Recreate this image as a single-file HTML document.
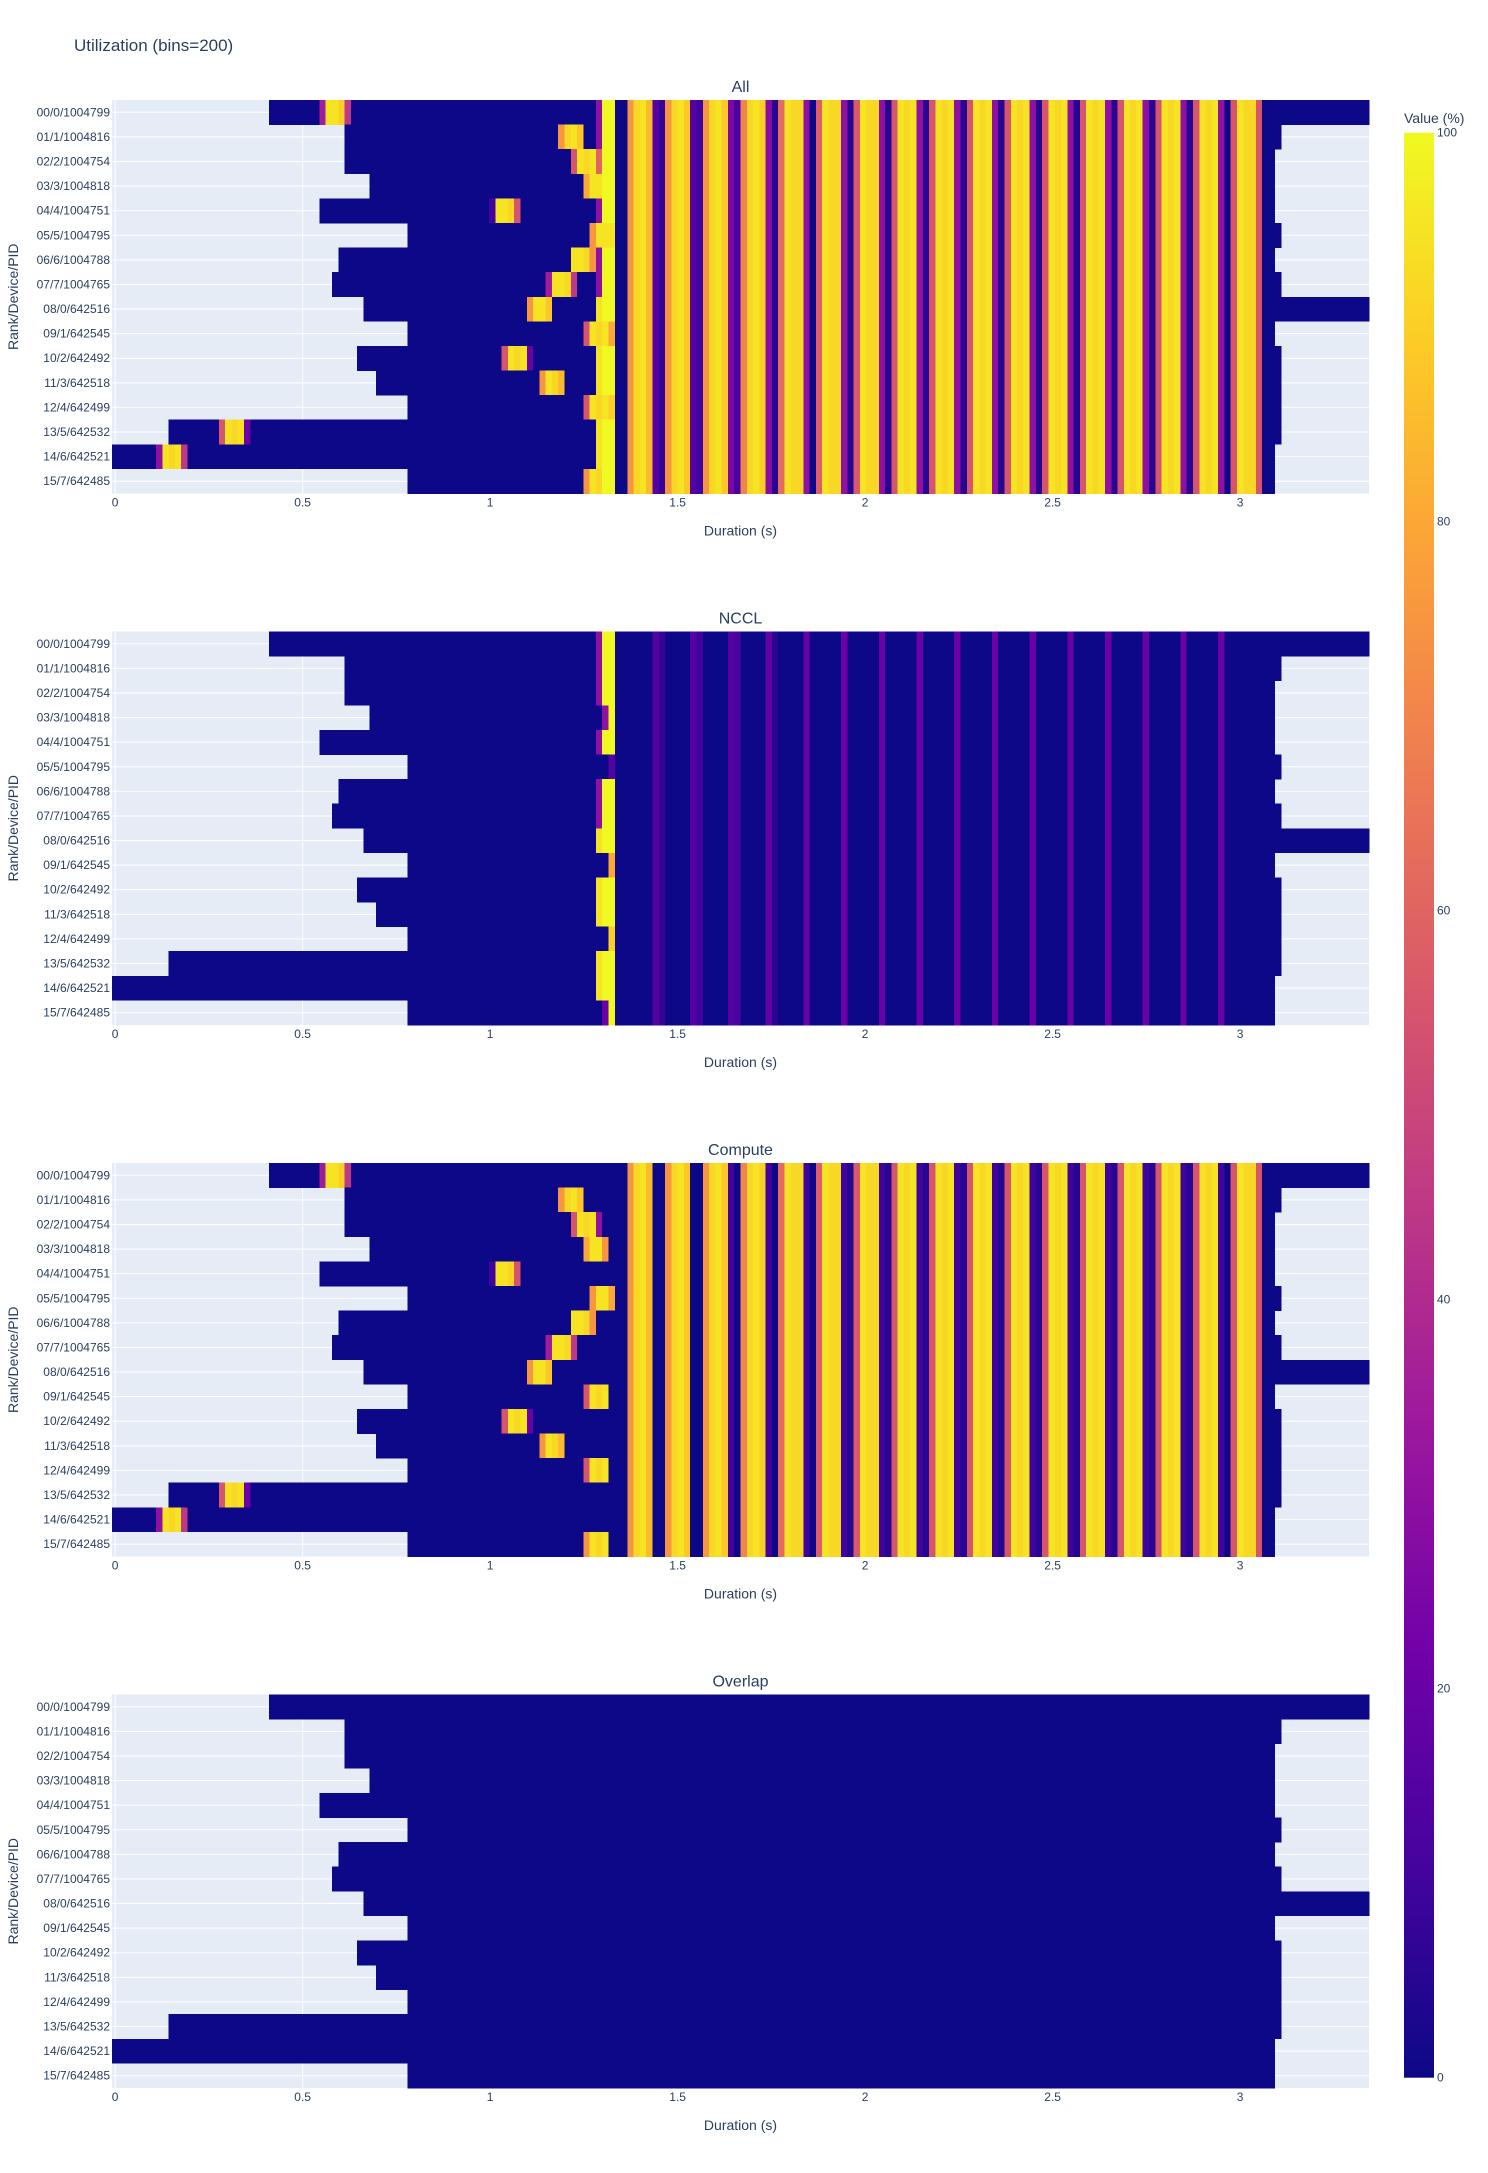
<!DOCTYPE html>
<html><head><meta charset="utf-8"><style>
body{margin:0;background:#fff;}
svg text{font-family:"Liberation Sans",Arial,sans-serif;fill:#2a3f5f;}
</style></head><body>
<svg id="chart" width="1488" height="2168" xmlns="http://www.w3.org/2000/svg">
<text x="74" y="51" font-size="17">Utilization (bins=200)</text>
</svg>
<script>
// ---- data ----
const rowLabels = ["00/0/1004799","01/1/1004816","02/2/1004754","03/3/1004818","04/4/1004751","05/5/1004795","06/6/1004788","07/7/1004765","08/0/642516","09/1/642545","10/2/642492","11/3/642518","12/4/642499","13/5/642532","14/6/642521","15/7/642485"];
const panelTitles = ["All","NCCL","Compute","Overlap"];
const xTicks = [0,0.5,1,1.5,2,2.5,3];
const xTickLabels = ["0","0.5","1","1.5","2","2.5","3"];
const cbTicks = [0,20,40,60,80,100];
const binCount = 200;
const binWidth = 0.01676;
// active bin range per row
const rowStart = [25,37,37,41,33,47,36,35,40,47,39,42,47,9,0,47];
const rowEnd = [199,185,184,184,184,185,184,185,199,184,185,185,185,185,184,184];
// compute pre-phase blip per row: start bin and 5 values
const blipStart = [33,71,73,75,60,76,73,69,66,75,62,68,75,17,7,75];
const blipVals = [
[35,95,95,90,45],[75,92,95,88,0],[55,95,92,95,30],[80,95,95,75,0],
[10,95,95,92,55],[75,95,95,80,0],[95,95,92,75,0],[35,95,95,92,45],
[75,95,95,88,0],[55,95,92,95,0],[55,95,92,95,20],[75,95,92,85,0],
[55,95,92,95,0],[55,95,92,95,20],[30,95,92,95,45],[75,95,92,95,0]];
// NCCL values at bins 77,78,79 per row
const ncclEarly = [[30,100,100],[30,100,100],[30,100,100],[0,30,100],[30,100,100],[0,0,15],[30,100,100],[30,100,100],[95,100,100],[0,0,80],[95,100,100],[95,100,100],[0,0,90],[95,100,100],[95,100,100],[0,20,100]];
// steady-state compute columns, bins 80..199
const computeSteady = [0,0,75,92,95,85, 0,0,75,92,95,88, 0,0,75,92,95,88, 10,0,70,92,95,90, 10,0,62,95,92,92, 10,0,58,95,92,92,
 10,5,56,95,92,92, 10,5,55,95,92,95, 10,5,55,95,92,95, 10,5,55,95,92,95, 10,5,55,95,92,95, 10,5,55,95,92,95,
 10,5,55,95,92,95, 10,5,55,95,92,95, 10,5,55,95,92,95, 10,5,55,95,92,95, 10,0,55,95,92,92, 55,
 0,0,0,0,0,0,0,0,0,0,0,0,0,0,0,0,0];
// steady-state NCCL columns, bins 80..199
const ncclSteady = [0,0,0,0,0,0, 15,8,0,0,0,0, 15,10,0,0,0,0, 15,12,0,0,0,0, 18,5,0,0,0,0, 20,0,0,0,0,0,
 20,0,0,0,0,0, 20,0,0,0,0,0, 20,0,0,0,0,0, 20,0,0,0,0,0, 20,0,0,0,0,0, 20,0,0,0,0,0,
 20,0,0,0,0,0, 20,0,0,0,0,0, 20,0,0,0,0,0, 20,0,0,0,0,0, 20,0,0,0,0,0,
 0,0,0,0,0,0,0,0,0,0,0,0,0,0,0,0,0,0];

// ---- build matrices ----
function buildMatrix(kind){
  const m=[];
  for(let r=0;r<16;r++){
    const row=[];
    for(let b=0;b<binCount;b++){
      if(b<rowStart[r]||b>rowEnd[r]){row.push(null);continue;}
      let c=0,n=0;
      const k=b-blipStart[r];
      if(k>=0&&k<5) c=blipVals[r][k];
      if(b>=77&&b<=79) n=ncclEarly[r][b-77];
      if(b>=80){c=computeSteady[b-80]||0;n=ncclSteady[b-80]||0;}
      let v;
      if(kind==="All") v=Math.min(100,c+n);
      else if(kind==="NCCL") v=n;
      else if(kind==="Compute") v=c;
      else v=0;
      row.push(v);
    }
    m.push(row);
  }
  return m;
}
const stops=[[0,"#0d0887"],[0.111,"#46039f"],[0.222,"#7201a8"],[0.333,"#9c179e"],[0.444,"#bd3786"],[0.556,"#d8576b"],[0.667,"#ed7953"],[0.778,"#fb9f3a"],[0.889,"#fdca26"],[1,"#f0f921"]];
function hex(h){return [parseInt(h.slice(1,3),16),parseInt(h.slice(3,5),16),parseInt(h.slice(5,7),16)];}
function color(v){
  const t=Math.max(0,Math.min(1,v/100));
  for(let i=1;i<stops.length;i++){
    if(t<=stops[i][0]){
      const a=hex(stops[i-1][1]),b=hex(stops[i][1]);
      const f=(t-stops[i-1][0])/(stops[i][0]-stops[i-1][0]);
      return "rgb("+a.map((x,j)=>Math.round(x+(b[j]-x)*f)).join(",")+")";
    }
  }
  return stops[stops.length-1][1];
}
const NS="http://www.w3.org/2000/svg";
const svg=document.getElementById("chart");
function el(tag,attrs,parent){const e=document.createElementNS(NS,tag);for(const k in attrs)e.setAttribute(k,attrs[k]);(parent||svg).appendChild(e);return e;}
const plotL=112, plotR=1369, plotH=393.5;
const panelTops=[100,631.5,1163,1694.5];
const cellW=(plotR-plotL)/binCount;
function xScale(s){return plotL+cellW/2+s/binWidth*cellW;}

panelTitles.forEach((title,p)=>{
  const top=panelTops[p], rowH=plotH/16;
  const yScale=r=>top+r*rowH;
  const g=el("g",{});
  
  
  const bg=el("rect",{x:plotL,y:top,width:plotR-plotL,height:plotH,fill:"#e5ecf6"},g);
  
  
  xTicks.forEach((t)=>{
    const gl=el("line",{x1:xScale(t),x2:xScale(t),y1:top,y2:top+plotH,stroke:"#fff","stroke-width":1},g);
    
    
  });
  rowLabels.forEach((lab,r)=>{
    const gl=el("line",{x1:plotL,x2:plotR,y1:yScale(r)+rowH/2,y2:yScale(r)+rowH/2,stroke:"#fff","stroke-width":1},g);
    
    
  });
  const m=buildMatrix(title);
  const hg=el("g",{"shape-rendering":"crispEdges"},g);
  
  
  for(let r=0;r<16;r++){
    for(let b=0;b<binCount;b++){
      const v=m[r][b]; if(v===null)continue;
      const cell=el("rect",{x:(plotL+b*cellW).toFixed(2),y:yScale(r).toFixed(2),width:(cellW+0.3).toFixed(2),height:(rowH+0.3).toFixed(2),fill:color(v)},hg);
      
      
    }
  }
  const tt=el("text",{x:(plotL+plotR)/2,y:top-8,"font-size":16,"text-anchor":"middle"},g);
  tt.textContent=title;
  
  
  rowLabels.forEach((lab,r)=>{
    const t=el("text",{x:plotL-2,y:yScale(r)+rowH/2+4,"font-size":12,"text-anchor":"end"},g);
    t.textContent=lab;
    
    
  });
  xTicks.forEach((tv,i)=>{
    const t=el("text",{x:xScale(tv),y:top+plotH+13,"font-size":12,"text-anchor":"middle"},g);
    t.textContent=xTickLabels[i];
    
    
  });
  const xt=el("text",{x:(plotL+plotR)/2,y:top+plotH+42,"font-size":14,"text-anchor":"middle"},g);
  xt.textContent="Duration (s)";
  
  
  const cy=top+plotH/2;
  const yt=el("text",{x:18,y:cy,"font-size":14,"text-anchor":"middle",transform:"rotate(-90 18 "+cy+")"},g);
  yt.textContent="Rank/Device/PID";
  
  
});

// colorbar
const cbX=1404,cbW=30,cbTop=132.7,cbBot=2077.7;
const defs=el("defs",{});
const grad=el("linearGradient",{id:"cbgrad",x1:0,y1:1,x2:0,y2:0},defs);
stops.forEach(s=>{el("stop",{offset:s[0],"stop-color":s[1]},grad);});
const cb=el("rect",{x:cbX,y:cbTop,width:cbW,height:cbBot-cbTop,fill:"url(#cbgrad)"});


const cbt=el("text",{x:cbX,y:123,"font-size":14});
cbt.textContent="Value (%)";


cbTicks.forEach(v=>{
  const y=cbBot-(v/100)*(cbBot-cbTop);
  const t=el("text",{x:cbX+cbW+3,y:y+4,"font-size":12});
  t.textContent=String(v);
  
  
});
</script>
</body></html>
